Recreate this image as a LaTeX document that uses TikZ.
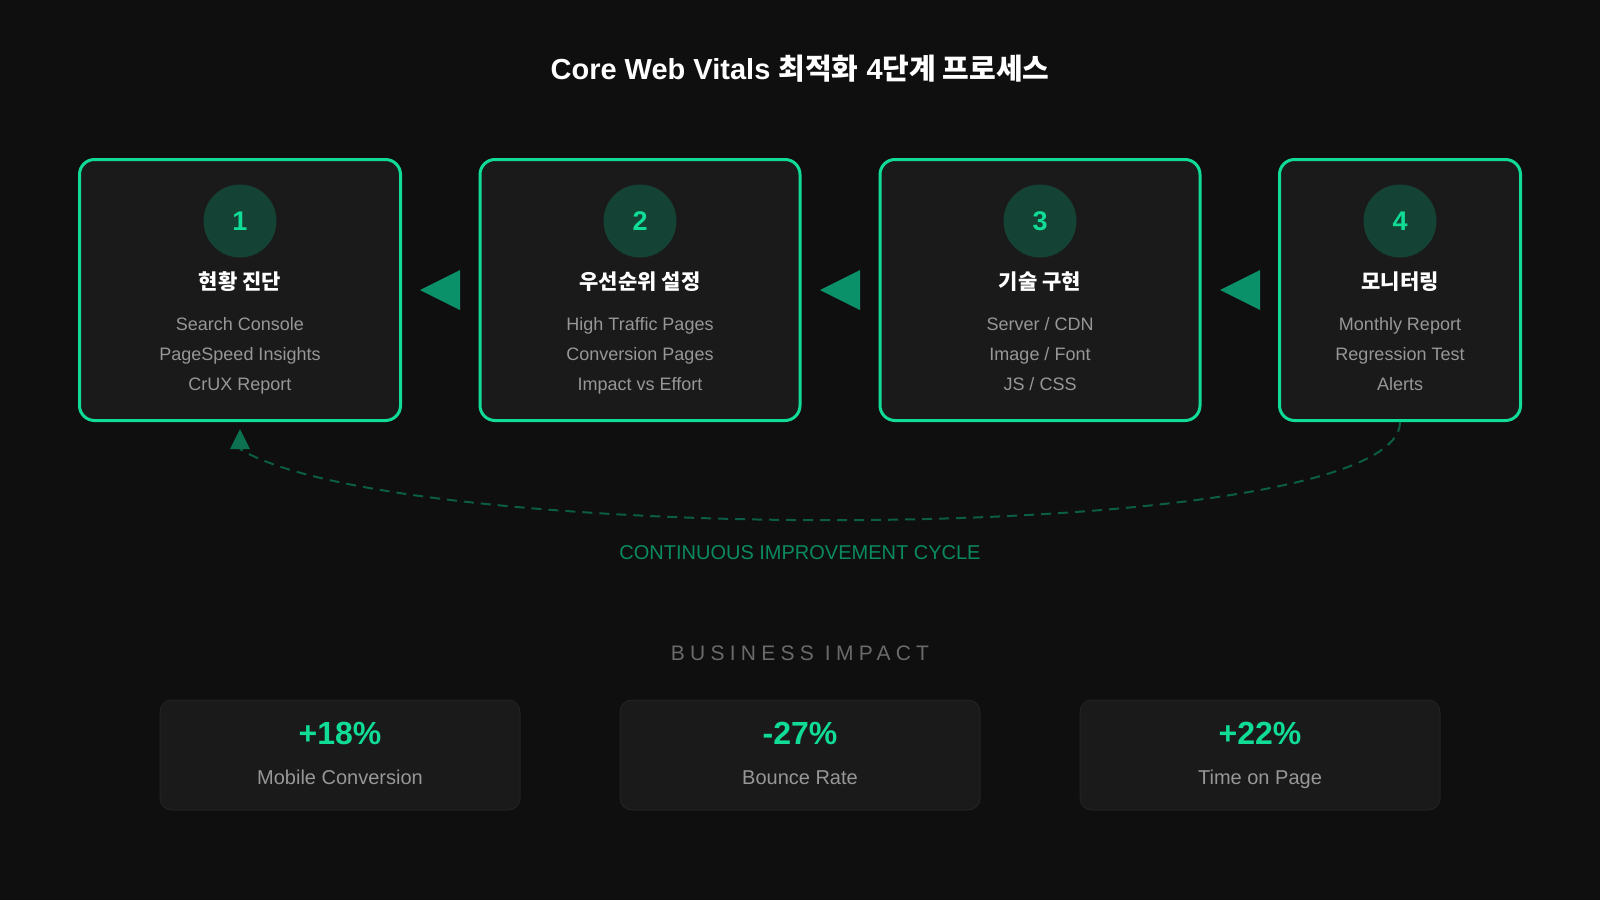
\documentclass[tikz,border=0pt]{standalone}
\usepackage{fontspec}
\setmainfont{Liberation Sans}
\newfontfamily\kr{Noto Sans CJK KR}
\newfontfamily\wide[LetterSpace=25]{Liberation Sans}
\usetikzlibrary{positioning}
\definecolor{bg}{HTML}{0F0F0F}
\definecolor{card}{HTML}{1A1A1A}
\definecolor{neon}{HTML}{10DC96}
\definecolor{dotfill}{HTML}{144234}
\definecolor{flow}{HTML}{0A916A}
\definecolor{loopgreen}{HTML}{0B5E45}
\definecolor{looptext}{HTML}{0A8A60}
\definecolor{itemgray}{HTML}{979797}
\definecolor{dimgray}{HTML}{6A6A6A}
\definecolor{metricedge}{HTML}{222222}

\tikzset{
  stepbox/.style={draw=neon,line width=3pt,fill=card,rounded corners=15pt,minimum height=261pt},
  numdot/.style={circle,fill=dotfill,minimum size=73pt,inner sep=0pt,text=neon,font=\fontsize{27}{27}\selectfont\bfseries},
  steptitle/.style={text=white,font=\kr\bfseries\fontsize{21}{21}\selectfont},
  item/.style={text=itemgray,font=\fontsize{18}{18}\selectfont,text height=13pt,text depth=4pt},
  metricbox/.style={draw=metricedge,line width=1pt,fill=card,rounded corners=12pt,minimum width=360pt,minimum height=110pt},
  metricval/.style={text=neon,font=\fontsize{32}{32}\selectfont\bfseries,text height=23pt,text depth=2pt},
  metriclabel/.style={text=itemgray,font=\fontsize{20}{20}\selectfont,text height=14pt,text depth=4pt},
  cycleline/.style={draw=loopgreen,line width=2pt,dash pattern=on 10pt off 7pt}
}

\begin{document}
\begin{tikzpicture}[x=1pt,y=-1pt]
\fill[bg] (0,0) rectangle (1600,900);

\node[text=white,font=\fontsize{29}{29}\selectfont\bfseries] (title) at (800,69)
  {Core Web Vitals {\kr 최적화} 4{\kr 단계 프로세스}};

% four steps
\foreach \x/\w/\n/\t/\a/\b/\c in {
  240/321/1/현황 진단/Search Console/PageSpeed Insights/CrUX Report,
  640/320/2/우선순위 설정/High Traffic Pages/Conversion Pages/Impact vs Effort,
  1040/320/3/기술 구현/{Server / CDN}/{Image / Font}/{JS / CSS},
  1400/241/4/모니터링/Monthly Report/Regression Test/Alerts}{
  \node[stepbox,minimum width=\w pt] (s\n) at (\x,290) {};
  \node[numdot] (n\n) at (\x,221) {\n};
  \node[steptitle] (t\n) at (\x,282) {\t};
  \node[item] (a\n) at (\x,326) {\a};
  \node[item] (b\n) at (\x,356) {\b};
  \node[item] (c\n) at (\x,386) {\c};
}

% arrows between steps
\fill[flow] (420,290) -- (460,270) -- (460,310) -- cycle;
\fill[flow] (820,290) -- (860,270) -- (860,310) -- cycle;
\fill[flow] (1220,290) -- (1260,270) -- (1260,310) -- cycle;

% feedback loop
\coordinate (tip) at (240,449);
\draw[cycleline] (s4.south) .. controls (1400,548) and (400,548) .. (tip);
\fill[loopgreen!85!neon] (240,429) -- (230,449) -- (250,449) -- cycle;
\node[text=looptext,font=\fontsize{20}{20}\selectfont] (cyc) at (800,553) {CONTINUOUS IMPROVEMENT CYCLE};

% impact
\node[text=dimgray,font=\wide\fontsize{21}{21}\selectfont] (impact) at (800,653) {BUSINESS IMPACT};
\foreach \x/\v/\l [count=\i] in {340/+18\%/Mobile Conversion, 800/-27\%/Bounce Rate, 1260/+22\%/Time on Page}{
  \node[metricbox] (m\i) at (\x,755) {};
  \node[metricval] (v\i) at (\x,734) {\v};
  \node[metriclabel] (l\i) at (\x,779) {\l};
}
\end{tikzpicture}
\end{document}
